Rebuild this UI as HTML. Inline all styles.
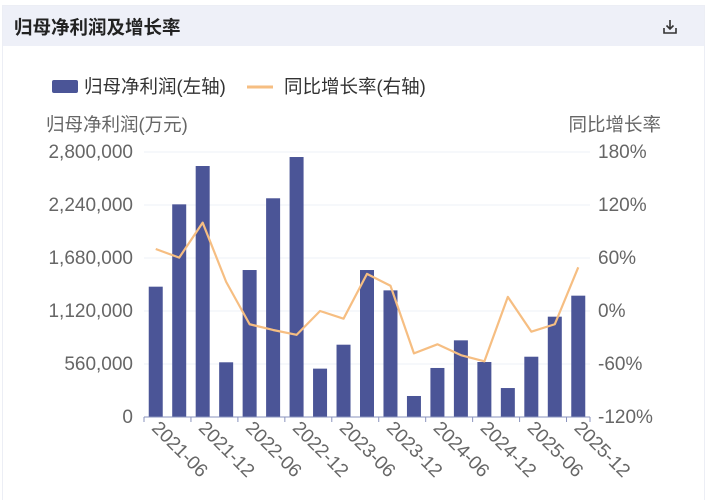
<!DOCTYPE html>
<html><head><meta charset="utf-8"><style>
body{margin:0;background:#fff;width:710px;height:500px;overflow:hidden;font-family:"Liberation Sans","Noto Sans CJK SC",sans-serif}
#card{position:absolute;left:2px;top:5px;width:703px;height:495px;border:1px solid #eceef5;border-bottom:none;box-sizing:border-box}
#hdr{position:absolute;left:0;top:0;width:100%;height:40px;background:#eef0f8}
#title{position:absolute;left:11px;top:8px;font-size:18.5px;font-weight:bold;color:#222}
</style></head><body>
<div id="card">
<div id="hdr">
<div id="title">归母净利润及增长率</div>
<svg style="position:absolute;left:658px;top:12px" width="18" height="18" viewBox="0 0 18 18"><path d="M9 2v9M5.5 7.5L9 11l3.5-3.5M3 10v5h12v-5" fill="none" stroke="#333" stroke-width="1.6"/></svg>
</div></div>
<svg id="c" width="710" height="500" style="position:absolute;left:0;top:0" font-family="Liberation Sans, Noto Sans CJK SC, sans-serif"></svg>
<script>
const categories=["2021-06","2021-09","2021-12","2022-03","2022-06","2022-09","2022-12","2023-03","2023-06","2023-09","2023-12","2024-03","2024-06","2024-09","2024-12","2025-03","2025-06","2025-09","2025-12"];
const profit=[1377000,2247000,2652000,578000,1553000,2311000,2747000,511000,764000,1553000,1338000,222000,518000,810000,581000,306000,637000,1060000,1282000];
const growth=[70.2,60.4,100,33,-15,-21.5,-27,0,-8.7,42,28.6,-48,-37.7,-50,-57,16,-23.4,-15,49.5];
const leftTicks=["0","560,000","1,120,000","1,680,000","2,240,000","2,800,000"];
const rightTicks=["-120%","-60%","0%","60%","120%","180%"];
const svg=document.getElementById('c');const NS='http://www.w3.org/2000/svg';
function mk(t,a,p){const e=document.createElementNS(NS,t);for(const k in a)e.setAttribute(k,a[k]);(p||svg).appendChild(e);return e;}
const X0=144,X1=590,Y0=417,Y1=152;const bw=(X1-X0)/categories.length;
const yL=v=>Y0-(v/2800000)*(Y0-Y1);const yR=v=>Y0-((v+120)/300)*(Y0-Y1);const xc=i=>X0+bw*(i+0.5);
for(let i=0;i<6;i++){const y=Y0-i*(Y0-Y1)/5;
if(i>0){const g=mk('line',{x1:X0,x2:X1,y1:y,y2:y,stroke:'#eef0f7','stroke-width':1});}
const t=mk('text',{x:133,y:y+6,'text-anchor':'end','font-size':19,fill:'#666'});t.textContent=leftTicks[i];
const r=mk('text',{x:598,y:y+6,'font-size':19,fill:'#666'});r.textContent=rightTicks[i];}
profit.forEach((v,i)=>{const b=mk('rect',{x:xc(i)-7,y:yL(v),width:14,height:Y0-yL(v),fill:'#4b5597'});});
const ax=mk('line',{x1:X0,x2:X1,y1:Y0,y2:Y0,stroke:'#8a93bd','stroke-width':1});
for(let i=0;i<=categories.length;i+=2){const x=X0+bw*i;const tk=mk('line',{x1:x,x2:x,y1:Y0,y2:Y0+5,stroke:'#8a93bd'});}
{const tk=mk('line',{x1:X1,x2:X1,y1:Y0,y2:Y0+5,stroke:'#8a93bd'});}
categories.forEach((c,i)=>{if(i%2)return;const x=xc(i)-5,y=Y0+12;const t=mk('text',{x:x,y:y,'font-size':19,fill:'#666',transform:`rotate(45 ${x} ${y})`});t.textContent=c;});
const ln=mk('polyline',{points:growth.map((v,i)=>xc(i)+','+yR(v)).join(' '),fill:'none',stroke:'#f6be82','stroke-width':2.2,'stroke-linejoin':'round'});
const lg1=mk('rect',{x:52,y:80,width:26,height:13,rx:2,fill:'#4b5597'});
const t1=mk('text',{x:84,y:93,'font-size':18.5,fill:'#333'});t1.textContent='归母净利润(左轴)';
const lg2=mk('line',{x1:247,x2:273,y1:87,y2:87,stroke:'#f6be82','stroke-width':3});
const t2=mk('text',{x:284,y:93,'font-size':18.5,fill:'#333'});t2.textContent='同比增长率(右轴)';
const a1=mk('text',{x:46,y:131,'font-size':18.5,fill:'#666'});a1.textContent='归母净利润(万元)';
const a2=mk('text',{x:661,y:131,'font-size':18.5,fill:'#666','text-anchor':'end'});a2.textContent='同比增长率';
</script></body></html>
